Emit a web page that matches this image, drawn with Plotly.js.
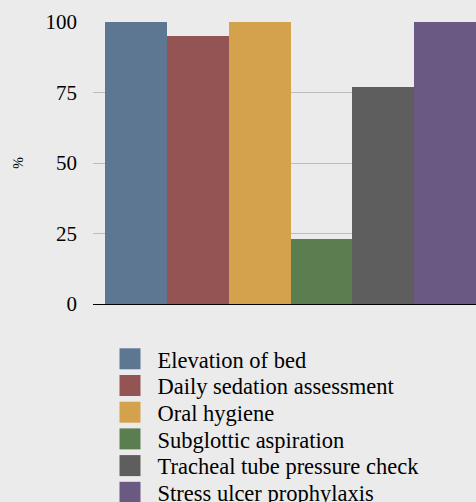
<!DOCTYPE html>
<html>
<head>
<meta charset="utf-8">
<script src="https://cdn.plot.ly/plotly-3.0.1.min.js"></script>
<style>
html,body{margin:0;padding:0;background:#ebebeb;}
#chart{width:476px;height:502px;}
</style>
</head>
<body>
<div id="chart"></div>
<script>
var categories = ["Elevation of bed","Daily sedation assessment","Oral hygiene","Subglottic aspiration","Tracheal tube pressure check","Stress ulcer prophylaxis"];
var values = [100, 95, 100, 23, 77, 100];
var colors = ["#5d7792","#955454","#d4a14c","#5a7e50","#5e5e5e","#6a5a83"];
var yTicks = [0, 25, 50, 75, 100];
var yTitle = "%";

var FONT = "'Liberation Serif', 'Times New Roman', serif";

var traces = categories.map(function(c, i){
  return {
    type: "bar",
    x: [c],
    y: [values[i]],
    name: c,
    marker: {color: colors[i], line: {width: 0}},
    hoverinfo: "skip"
  };
});

var layout = {
  width: 476,
  height: 502,
  paper_bgcolor: "#ebebeb",
  plot_bgcolor: "#ebebeb",
  margin: {l: 93, r: 0, t: 22, b: 198, pad: 0, autoexpand: false},
  barmode: "overlay",
  bargap: 0,
  showlegend: true,
  font: {family: FONT, color: "#000"},
  xaxis: {
    type: "category",
    categoryorder: "array",
    categoryarray: categories,
    range: [-0.694, 5.5],
    showticklabels: false,
    showgrid: false,
    zeroline: false,
    showline: true,
    linecolor: "#000",
    linewidth: 1,
    ticks: "",
    fixedrange: true
  },
  yaxis: {
    range: [0, 100],
    tickvals: yTicks,
    ticktext: yTicks.map(String),
    showgrid: true,
    gridcolor: "#bdbdbd",
    gridwidth: 1,
    zeroline: false,
    showline: false,
    ticks: "",
    ticklabelstandoff: 15,
    tickfont: {family: FONT, size: 21, color: "#000"},
    title: {text: yTitle, font: {family: FONT, size: 14, color: "#000"}, standoff: 18},
    fixedrange: true
  },
  legend: {
    orientation: "v",
    x: 0.0248,
    xanchor: "left",
    y: -0.1194,
    yanchor: "top",
    bgcolor: "rgba(0,0,0,0)",
    borderwidth: 0,
    itemwidth: 45,
    font: {family: FONT, size: 22.5, color: "#000"},
    itemclick: false,
    itemdoubleclick: false
  }
};

Plotly.newPlot("chart", traces, layout, {staticPlot: true, displayModeBar: false}).then(function(gd){
  var items = gd.querySelectorAll(".legend .traces");
  var y0 = null;
  items.forEach(function(g, i){
    var t = g.getAttribute("transform") || "";
    var m = t.match(/translate\(\s*([-\d.]+)[ ,]+([-\d.]+)\s*\)/);
    var x = m ? parseFloat(m[1]) : 0;
    var y = m ? parseFloat(m[2]) : 0;
    if (y0 === null) y0 = y;
    g.setAttribute("transform", "translate(" + x + "," + (y0 + i * 26.7) + ")");
  });
  gd.querySelectorAll(".legend .legendpoints path").forEach(function(p){
    p.setAttribute("d", "M10.5,10.5H-10.5V-10.5H10.5Z");
  });
  gd.querySelectorAll(".legend .scrollbox").forEach(function(el){
    el.removeAttribute("clip-path");
  });
  gd.querySelectorAll(".legend .scrollbar").forEach(function(el){
    el.style.display = "none";
  });
  var lg = gd.querySelector(".legend");
  if (lg) lg.removeAttribute("clip-path");
});
</script>
</body>
</html>
